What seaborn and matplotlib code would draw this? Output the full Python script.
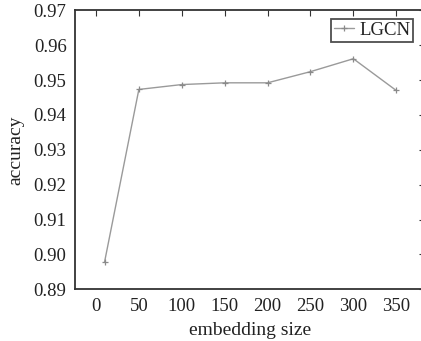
import matplotlib
matplotlib.use("Agg")
import matplotlib.pyplot as plt
import seaborn as sns
import pandas as pd

embedding_size = [10, 50, 100, 150, 200, 250, 300, 350]
accuracy = [0.8978, 0.9473, 0.9487, 0.9492, 0.9492, 0.9524, 0.9561, 0.9470]
series_name = "LGCN"
x_ticks = [0, 50, 100, 150, 200, 250, 300, 350]
y_ticks = [0.89, 0.90, 0.91, 0.92, 0.93, 0.94, 0.95, 0.96, 0.97]

sns.set_theme(style="white")
plt.rcParams['font.family'] = ['Liberation Serif', 'DejaVu Serif']
plt.rcParams['mathtext.fontset'] = 'stix'

df = pd.DataFrame({"embedding size": embedding_size, "accuracy": accuracy})

fig = plt.figure(figsize=(4.21, 3.41), dpi=100)
ax = fig.add_axes([0.178, 0.1516, 0.8325, 0.8183])

sns.lineplot(data=df, x="embedding size", y="accuracy", ax=ax,
             color="#9a9a9a", linewidth=1.0, marker="+", markersize=5,
             markeredgewidth=0.9, markeredgecolor="#8a8a8a", label=series_name)

ax.set_xlim(-24.5, 384)
ax.set_ylim(0.89, 0.97)
ax.set_xticks(x_ticks)
ax.set_xticklabels([str(v) for v in x_ticks])
ax.set_yticks(y_ticks)
ax.set_yticklabels([f"{v:.2f}" for v in y_ticks])

for s in ax.spines.values():
    s.set_color("#333333")
    s.set_linewidth(1.3)

ax.tick_params(direction="in", length=4, width=0.8, colors="#333333",
               top=True, right=True, labelsize=13.5, pad=6, labelcolor="#222222")
ax.set_xlabel("embedding size", fontsize=14, color="#222222", labelpad=5)
ax.set_ylabel("accuracy", fontsize=14, color="#222222", labelpad=7)

leg = ax.legend(loc="upper right", bbox_to_anchor=(0.9657, 0.9688), fontsize=13.5,
                frameon=True, fancybox=False, handlelength=1.07, handletextpad=0.3,
                borderpad=0.15, borderaxespad=0.0)
leg.get_frame().set_edgecolor("#222222")
leg.get_frame().set_linewidth(1.3)
for t in leg.get_texts():
    t.set_color("#222222")

fig.savefig("out.png", dpi=100)
